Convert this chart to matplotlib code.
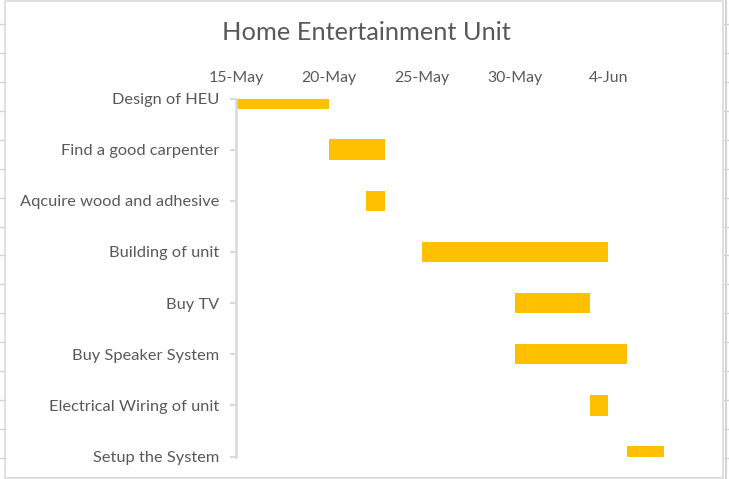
import datetime as dt
import matplotlib
matplotlib.use("Agg")
import matplotlib.pyplot as plt
import matplotlib.dates as mdates
from matplotlib.lines import Line2D
from matplotlib.patches import Rectangle

tasks = ["Design of HEU", "Find a good carpenter", "Aqcuire wood and adhesive",
         "Building of unit", "Buy TV", "Buy Speaker System",
         "Electrical Wiring of unit", "Setup the System"]
starts = ["2019-05-15", "2019-05-20", "2019-05-22", "2019-05-25",
          "2019-05-30", "2019-05-30", "2019-06-03", "2019-06-05"]
durations = [5, 3, 1, 10, 4, 6, 1, 2]
tick_dates = ["2019-05-15", "2019-05-20", "2019-05-25", "2019-05-30", "2019-06-04"]
x_min, x_max = "2019-05-15", "2019-06-07"

plt.rcParams['font.family'] = ['Lato', 'DejaVu Sans']
grey = '#595959'
line_grey = '#D9D9D9'
bar_col = '#FFC000'

W, H = 729, 479
fig = plt.figure(figsize=(W / 100, H / 100), dpi=100)

# spreadsheet cell lines behind the chart
for k in range(16):
    y = 1 - (24 + 28.93 * k) / H
    fig.add_artist(Line2D([0, 5 / W], [y, y], color='#D4D4D4', lw=1))
    fig.add_artist(Line2D([724 / W, 1], [y, y], color='#D4D4D4', lw=1))
fig.add_artist(Line2D([726 / W, 726 / W], [0, 1], color='#D4D4D4', lw=1.5))
# chart border
fig.add_artist(Rectangle((5 / W, 1 / H), 718 / W, 477 / H, transform=fig.transFigure,
                         fill=False, edgecolor=line_grey, lw=1.2))

ax = fig.add_axes([236 / W, 1 - 456.5 / H, (664 - 236) / W, (456.5 - 98.5) / H])

d2n = lambda s: mdates.date2num(dt.datetime.strptime(s, "%Y-%m-%d"))
ypos = list(range(len(tasks)))
ax.barh(ypos, durations, left=[d2n(s) for s in starts], height=0.4,
        color=bar_col, edgecolor='none')

ax.set_xlim(d2n(x_min), d2n(x_max))
ax.set_ylim(len(tasks) - 1, 0)
ax.set_xticks([d2n(s) for s in tick_dates])
ax.xaxis.set_major_formatter(mdates.DateFormatter('%-d-%b'))
ax.xaxis.tick_top()
ax.tick_params(axis='x', length=0, pad=10, labelsize=11.4, labelcolor=grey)
ax.set_yticks(ypos)
ax.set_yticklabels(tasks)
ax.tick_params(axis='y', length=4, width=1.5, color=line_grey, pad=8,
               labelsize=11.8, labelcolor=grey)

for side in ['top', 'right', 'bottom']:
    ax.spines[side].set_visible(False)
ax.spines['left'].set_color(line_grey)
ax.spines['left'].set_linewidth(1.8)

fig.text(366 / W, 1 - 33 / H, "Home Entertainment Unit", ha='center', va='center',
         fontsize=18.3, color=grey)

fig.savefig("out.png", dpi=100)
